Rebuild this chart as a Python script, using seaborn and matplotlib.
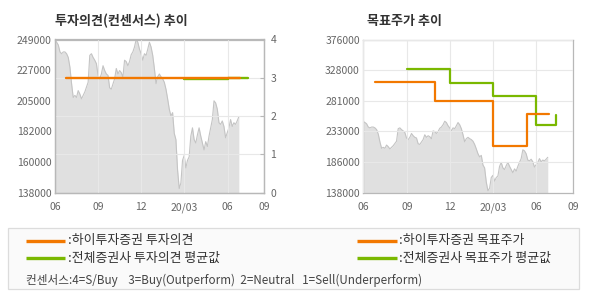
import numpy as np
import pandas as pd
import matplotlib
matplotlib.use('Agg')
import matplotlib.pyplot as plt
import matplotlib.dates as mdates
from matplotlib.patches import Rectangle
from matplotlib.lines import Line2D
import seaborn as sns

sns.set_style('white')
plt.rcParams['font.family'] = ['Noto Sans CJK KR', 'DejaVu Sans']

# ---------------- data ----------------
prices = [248500, 247000, 245000, 240000, 238700, 240000, 240000, 238700, 236000, 229000,
          217000, 207000, 208500, 207000, 212000, 209500, 206000, 208500, 211000, 214500,
          218000, 237500, 238700, 236000, 234000, 231500, 223000, 220500, 224000, 230000,
          226500, 224000, 223000, 214000, 213000, 216800, 220500, 228000, 224000, 226500,
          225000, 221800, 234000, 233000, 230000, 233000, 238000, 240000, 243600, 249000,
          247000, 242000, 238700, 234000, 238700, 237500, 242000, 247000, 243600, 237500,
          228000, 217000, 222000, 224000, 222000, 220500, 218000, 213000, 206000, 198500,
          193600, 196000, 181000, 176500, 154500, 141000, 145000, 161500, 165000, 156000,
          161500, 164000, 179000, 185000, 176500, 174000, 180000, 185000, 179000, 174000,
          169000, 175000, 171500, 179000, 185000, 191000, 204600, 203000, 198500, 188700,
          187500, 190000, 186000, 177800, 181500, 185000, 191000, 186000, 188700, 187500,
          190000, 193000]
price_start, price_end = '2019-06-01', '2020-06-25'

opinion_hi_dates = ['2019-06-25', '2020-06-27']
opinion_hi = [3, 3]
opinion_avg_dates = ['2020-03-01', '2020-06-03', '2020-07-14']
opinion_avg = [2.96, 3.0, 3.0]

target_hi_dates = ['2019-06-26', '2019-10-30', '2020-03-02', '2020-05-13', '2020-06-27']
target_hi = [310000, 280000, 210000, 260000, 260000]
target_avg_dates = ['2019-09-01', '2019-12-01', '2020-03-01', '2020-06-01', '2020-07-12']
target_avg = [330000, 308000, 289000, 243000, 258000]

xtick_dates = ['2019-06-01', '2019-09-01', '2019-12-01', '2020-03-01', '2020-06-01', '2020-08-18']
xtick_labels = ['06', '09', '12', '20/03', '06', '09']

left_ylim = (138000, 249000)
right_ylim = (138000, 376000)
opinion_ticks = [0, 1, 2, 3, 4]

# ---------------- style ----------------
ORANGE = '#f27800'
GREEN = '#7ab800'
FILL = '#e0e0e0'
EDGE = '#c4c4c4'
GRID = '#e8e8e8'
SPINE = '#b8b8b8'
TICKC = '#666666'

price_dates = pd.date_range(price_start, price_end, periods=len(prices))
xt = [pd.Timestamp(d) for d in xtick_dates]
xlim = (mdates.date2num(xt[0]), mdates.date2num(xt[-1]))

fig = plt.figure(figsize=(5.9, 3.0), dpi=100)
fig.patch.set_facecolor('white')

def style_axes(ax):
    for s in ax.spines.values():
        s.set_color(SPINE)
        s.set_linewidth(0.9)
    ax.set_xlim(*xlim)
    ax.set_xticks([mdates.date2num(d) for d in xt])
    ax.set_xticklabels(xtick_labels)
    ax.tick_params(axis='x', length=3.5, width=0.8, color=SPINE, direction='out',
                   labelsize=7.5, labelcolor=TICKC, pad=3.5)
    ax.tick_params(axis='y', length=0, labelsize=7.5, labelcolor=TICKC, pad=2.5)

def fmt_ticks(lo, hi, n=6):
    vals = np.linspace(lo, hi, n)
    return vals, [f"{int(round(v / 1000.0) * 1000)}" for v in vals]

# ---- left chart: investment opinion ----
axL = fig.add_axes([55 / 590, (300 - 192.7) / 300, 209.3 / 590, 153.2 / 300])
axL.set_facecolor('white')
axL.fill_between(price_dates, left_ylim[0], prices, color=FILL, lw=0, zorder=1)
sns.lineplot(x=price_dates, y=prices, ax=axL, color=EDGE, lw=0.8, zorder=1.5)
axL.set_ylim(*left_ylim)
v, l = fmt_ticks(*left_ylim)
axL.set_yticks(v)
axL.set_yticklabels(l)
style_axes(axL)
axL.set_axisbelow(False)
axL.grid(axis='x', color=GRID, lw=0.8)
axL.grid(axis='y', visible=False)
axL.set_xlabel('')
axL.set_ylabel('')

axR = axL.twinx()
axR.set_ylim(0, 4)
axR.set_yticks(opinion_ticks)
axR.grid(axis='y', color=GRID, lw=0.8)
axR.set_axisbelow(True)
sns.lineplot(x=pd.to_datetime(opinion_avg_dates), y=opinion_avg, ax=axR, color=GREEN,
             lw=1.7, drawstyle='steps-post', zorder=3)
sns.lineplot(x=pd.to_datetime(opinion_hi_dates), y=opinion_hi, ax=axR, color=ORANGE,
             lw=1.7, drawstyle='steps-post', zorder=4)
axR.set_xlim(*xlim)
for s in axR.spines.values():
    s.set_color(SPINE)
    s.set_linewidth(0.9)
axR.tick_params(axis='y', direction='in', length=3, width=0.8, color=SPINE,
                labelsize=7.5, labelcolor=TICKC, pad=4.5)
axR.set_ylabel('')

# ---- right chart: target price ----
axT = fig.add_axes([363.3 / 590, (300 - 192.7) / 300, 210 / 590, 153.2 / 300])
axT.set_facecolor('white')
axT.fill_between(price_dates, right_ylim[0], prices, color=FILL, lw=0, zorder=1)
sns.lineplot(x=price_dates, y=prices, ax=axT, color=EDGE, lw=0.8, zorder=1.5)
sns.lineplot(x=pd.to_datetime(target_avg_dates), y=target_avg, ax=axT, color=GREEN,
             lw=1.6, drawstyle='steps-post', zorder=3)
sns.lineplot(x=pd.to_datetime(target_hi_dates), y=target_hi, ax=axT, color=ORANGE,
             lw=1.6, drawstyle='steps-post', zorder=4)
axT.set_ylim(*right_ylim)
v, l = fmt_ticks(*right_ylim)
axT.set_yticks(v)
axT.set_yticklabels(l)
style_axes(axT)
axT.set_axisbelow(False)
axT.grid(True, color=GRID, lw=0.8)
axT.set_xlabel('')
axT.set_ylabel('')
for line in axT.get_xgridlines() + axT.get_ygridlines():
    line.set_zorder(2)

# ---- titles ----
fig.text(55 / 590, 1 - 20.8 / 300, '투자의견(컨센서스) 추이', fontsize=9.4, fontweight='bold',
         color='#333333', ha='left', va='center')
fig.text(367 / 590, 1 - 20.8 / 300, '목표주가 추이', fontsize=9.4, fontweight='bold',
         color='#333333', ha='left', va='center')

# ---- legend box ----
axG = fig.add_axes([0, 0, 1, 1], zorder=-1)
axG.set_xlim(0, 590)
axG.set_ylim(300, 0)
axG.axis('off')
axG.add_patch(Rectangle((8, 228), 571, 61, facecolor='#fafafa', edgecolor='#dcdcdc', lw=0.9))
legend_items = [
    (26, 65, 68, 240.7, ORANGE, ':하이투자증권 투자의견'),
    (26, 65, 68, 258.4, GREEN, ':전체증권사 투자의견 평균값'),
    (357.3, 396.7, 399, 240.7, ORANGE, ':하이투자증권 목표주가'),
    (357.3, 396.7, 399, 258.4, GREEN, ':전체증권사 목표주가 평균값'),
]
for x0, x1, tx, y, c, t in legend_items:
    axG.add_line(Line2D([x0, x1], [y, y], color=c, lw=2.4, solid_capstyle='butt'))
    axG.text(tx, y, t, fontsize=9.3, color='#333333', ha='left', va='center')
axG.text(26, 280.6, '컨센서스:4=S/Buy    3=Buy(Outperform)  2=Neutral   1=Sell(Underperform)',
         fontsize=8.4, color='#444444', ha='left', va='center')

fig.savefig('out.png', dpi=100, facecolor='white')
